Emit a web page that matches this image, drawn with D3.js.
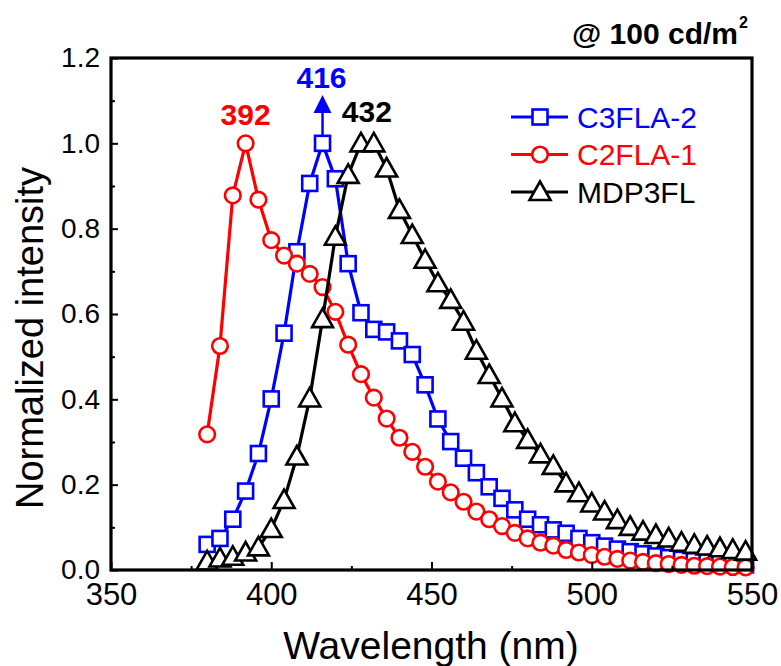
<!DOCTYPE html>
<html>
<head>
<meta charset="utf-8">
<script src="https://cdn.jsdelivr.net/npm/d3@7/dist/d3.min.js"></script>
<style>
  body { margin: 0; background: #fff; }
  svg { display: block; font-family: "Liberation Sans", Arial, sans-serif; }
</style>
</head>
<body>
<div id="chart"></div>
<script>
// wavelengths (nm), same grid for all three spectra
var wavelengths = [380, 384, 388, 392, 396, 400, 404, 408, 412, 416, 420, 424, 428, 432, 436, 440,
  444, 448, 452, 456, 460, 464, 468, 472, 476, 480, 484, 488, 492, 496, 500, 504, 508, 512,
  516, 520, 524, 528, 532, 536, 540, 544, 548];

var c3fla2 = [0.060, 0.074, 0.119, 0.185, 0.273, 0.401, 0.555, 0.746, 0.906, 1.000, 0.917, 0.718,
  0.603, 0.564, 0.558, 0.537, 0.505, 0.434, 0.354, 0.301, 0.262, 0.228, 0.195, 0.168, 0.141,
  0.119, 0.106, 0.094, 0.086, 0.074, 0.064, 0.056, 0.049, 0.043, 0.038, 0.033, 0.029, 0.025,
  0.022, 0.019, 0.016, 0.014, 0.012];

var c2fla1 = [0.318, 0.525, 0.878, 1.000, 0.868, 0.773, 0.737, 0.718, 0.694, 0.663, 0.605, 0.528,
  0.459, 0.404, 0.355, 0.310, 0.277, 0.242, 0.207, 0.182, 0.160, 0.137, 0.119, 0.103, 0.087,
  0.074, 0.064, 0.057, 0.047, 0.041, 0.035, 0.031, 0.026, 0.022, 0.019, 0.016, 0.014, 0.012,
  0.010, 0.009, 0.008, 0.007, 0.006];

var mdp3fl = [0.020, 0.027, 0.031, 0.041, 0.053, 0.096, 0.164, 0.266, 0.402, 0.588, 0.781, 0.926,
  1.000, 1.000, 0.941, 0.844, 0.785, 0.727, 0.672, 0.633, 0.582, 0.514, 0.457, 0.402, 0.344,
  0.305, 0.271, 0.244, 0.203, 0.180, 0.156, 0.137, 0.117, 0.101, 0.090, 0.082, 0.074, 0.064,
  0.059, 0.055, 0.051, 0.047, 0.043];

var seriesNames = ["C3FLA-2", "C2FLA-1", "MDP3FL"];
var xTicks = [350, 400, 450, 500, 550];
var yTicks = [0.0, 0.2, 0.4, 0.6, 0.8, 1.0, 1.2];
var peaks = [392, 416, 432];

function init(){
  var w = 781;
  var h = 666;

  var svg = d3.select("#chart")
    .append("svg")
    .attr("width", w)
    .attr("height", h);

  var xScale = d3.scaleLinear().domain([350, 550]).range([111, 752]);
  var yScale = d3.scaleLinear().domain([0, 1.2]).range([570, 58]);

  var series = [
    {name: seriesNames[0], values: c3fla2, color: "#0000ff", shape: "square"},
    {name: seriesNames[1], values: c2fla1, color: "#ff0000", shape: "circle"},
    {name: seriesNames[2], values: mdp3fl, color: "#000000", shape: "triangle"}
  ];

  function marker(sel, shape, color){
    if (shape == "square") {
      sel.append("rect").attr("x", -7.5).attr("y", -7.5).attr("width", 15).attr("height", 15)
        .attr("fill", "#fff").attr("stroke", color).attr("stroke-width", 2.6);
    } else if (shape == "circle") {
      sel.append("circle").attr("r", 7.8)
        .attr("fill", "#fff").attr("stroke", color).attr("stroke-width", 2.6);
    } else {
      sel.append("path").attr("d", "M0,-10.5L10.5,8L-10.5,8Z")
        .attr("fill", "#fff").attr("stroke", color).attr("stroke-width", 2.6)
        .attr("stroke-linejoin", "miter");
    }
  }

  // spectra
  series.forEach(function(s){
    var pts = wavelengths.map(function(d, i){ return {x: d, y: s.values[i]}; });
    var line = d3.line()
      .x(function(d){ return xScale(d.x); })
      .y(function(d){ return yScale(d.y); });

    svg.append("path")
      .datum(pts)
      .attr("fill", "none")
      .attr("stroke", s.color)
      .attr("stroke-width", 3.2)
      .attr("d", line);

    svg.append("g").selectAll("g")
      .data(pts)
      .enter().append("g")
      .attr("transform", function(d){ return "translate(" + xScale(d.x) + "," + yScale(d.y) + ")"; })
      .each(function(){ marker(d3.select(this), s.shape, s.color); });
  });

  // frame
  svg.append("rect")
    .attr("x", 111).attr("y", 58)
    .attr("width", 752 - 111).attr("height", 570 - 58)
    .attr("fill", "none").attr("stroke", "#000").attr("stroke-width", 3.2);

  // axes, ticks inside
  var xAxis = d3.axisBottom(xScale).tickValues(xTicks).tickSize(-8).tickFormat(d3.format("d")).tickPadding(13);
  var xMinor = d3.axisBottom(xScale).tickValues([375, 425, 475, 525]).tickSize(-4).tickFormat("");
  var yAxis = d3.axisLeft(yScale).tickValues(yTicks).tickSize(-7).tickFormat(d3.format(".1f")).tickPadding(11);
  var yMinor = d3.axisLeft(yScale).tickValues([0.1, 0.3, 0.5, 0.7, 0.9, 1.1]).tickSize(-4).tickFormat("");

  var gx = svg.append("g").attr("transform", "translate(0,570)").call(xAxis);
  svg.append("g").attr("transform", "translate(0,570)").call(xMinor);
  var gy = svg.append("g").attr("transform", "translate(111,0)").call(yAxis);
  svg.append("g").attr("transform", "translate(111,0)").call(yMinor);

  svg.selectAll(".domain").remove();
  svg.selectAll(".tick line").attr("stroke", "#000").attr("stroke-width", 2);
  gx.selectAll("text").style("font-size", "31px").attr("fill", "#000")
    .style("font-family", "'Liberation Sans', Arial, sans-serif");
  gy.selectAll("text").style("font-size", "28px").attr("fill", "#000")
    .style("font-family", "'Liberation Sans', Arial, sans-serif");

  // axis titles
  svg.append("text")
    .attr("x", 431).attr("y", 659)
    .attr("text-anchor", "middle")
    .style("font-size", "39px")
    .text("Wavelength (nm)");

  svg.append("text")
    .attr("transform", "translate(43,338) rotate(-90)")
    .attr("text-anchor", "middle")
    .style("font-size", "38px")
    .text("Normalized intensity");

  // peak labels
  svg.append("text").attr("x", xScale(peaks[0])).attr("y", 125)
    .attr("text-anchor", "middle").style("font-size", "30px").style("font-weight", "bold")
    .attr("fill", "#ff0000").text(peaks[0]);
  svg.append("text").attr("x", xScale(peaks[1]) - 1).attr("y", 88)
    .attr("text-anchor", "middle").style("font-size", "30px").style("font-weight", "bold")
    .attr("fill", "#0000ff").text(peaks[1]);
  svg.append("text").attr("x", xScale(peaks[2]) - 7).attr("y", 122)
    .attr("text-anchor", "middle").style("font-size", "30px").style("font-weight", "bold")
    .attr("fill", "#000").text(peaks[2]);

  // blue arrow above 416 peak
  var ax = xScale(peaks[1]);
  svg.append("line")
    .attr("x1", ax).attr("x2", ax)
    .attr("y1", yScale(1.0) - 8).attr("y2", 110)
    .attr("stroke", "#0000ff").attr("stroke-width", 2.5);
  svg.append("path")
    .attr("d", "M" + ax + ",95L" + (ax + 9) + ",113L" + (ax - 9) + ",113Z")
    .attr("fill", "#0000ff");

  // condition label
  svg.append("text")
    .attr("x", 738).attr("y", 44)
    .attr("text-anchor", "end")
    .style("font-size", "30px").style("font-weight", "bold")
    .text("@ 100 cd/m");
  svg.append("text").attr("x", 739).attr("y", 28)
    .style("font-size", "16px").style("font-weight", "bold").text("2");

  // legend
  var legend = svg.append("g");
  series.forEach(function(s, i){
    var ly = 117 + i * 37.5;
    legend.append("line")
      .attr("x1", 511).attr("x2", 568).attr("y1", ly).attr("y2", ly)
      .attr("stroke", s.color).attr("stroke-width", 3.2);
    var m = legend.append("g").attr("transform", "translate(540," + ly + ")");
    marker(m, s.shape, s.color);
    legend.append("text")
      .attr("x", 577).attr("y", ly + 10.5)
      .style("font-size", "30px")
      .attr("fill", s.color)
      .text(s.name);
  });
}

window.onload = init;
</script>
</body>
</html>
